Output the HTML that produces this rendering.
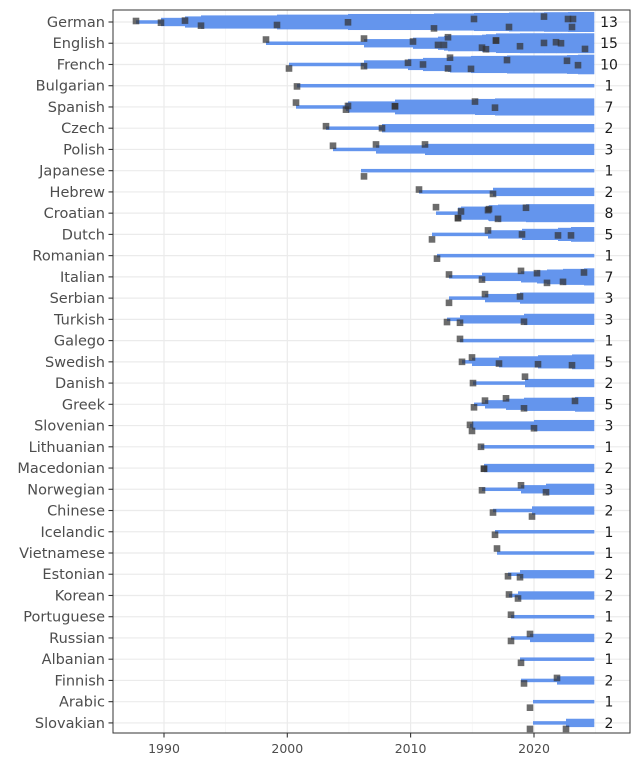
<!DOCTYPE html>
<html><head><meta charset="utf-8"><style>
html,body{margin:0;padding:0;background:#fff;}
svg{display:block;font-family:"DejaVu Sans","Liberation Sans",sans-serif;}
</style></head><body>
<svg id="s" width="640" height="768" xmlns="http://www.w3.org/2000/svg"></svg>
<script>
const S=document.getElementById('s');
const NS='http://www.w3.org/2000/svg';
function el(t,a,txt){const e=document.createElementNS(NS,t);for(const k in a)e.setAttribute(k,a[k]);if(txt!==undefined)e.textContent=txt;S.appendChild(e);return e;}
const L=113,R=630,T=10,B=733,END=594;
const rowY=i=>22+i*21.24;
const D=[
["German",[[136,-1],[161,0.7],[185,-1.4],[201,3.7],[277,3],[348,0.3],[434,6.4],[474,-3],[509,5],[544,-5.4],[568,-3],[573,-3],[572,5]]],
["English",[[266,-3.7],[364,-4.7],[413,-1.7],[438,1.7],[444,1.7],[448,-6],[482,4.4],[486,6],[496,-2.7],[496,-2.7],[520,3],[544,-0.3],[556,-1],[561,0],[585,5.7]]],
["French",[[289,4],[364,1.7],[408,-1.7],[423,0],[448,4],[450,-6.8],[471,4.4],[507,-4.4],[567,-3.7],[578,0.7]]],
["Bulgarian",[[297,0.7]]],
["Spanish",[[296,-4.4],[346,2.7],[348,-1],[395,-0.7],[395,-0.7],[475,-5.4],[495,0.7]]],
["Czech",[[326,-2],[382,0]]],
["Polish",[[333,-3.7],[376,-5],[425,-5]]],
["Japanese",[[364,5.7]],361],
["Hebrew",[[419,-2.4],[493,2]]],
["Croatian",[[436,-6],[458,5],[458,5],[461,-1.7],[488,-3],[489,-4],[498,5.7],[526,-5.4]]],
["Dutch",[[432,5],[488,-4],[522,0],[558,1],[571,1]]],
["Romanian",[[437,3]]],
["Italian",[[449,-2.4],[482,2.7],[521,-6],[537,-3.7],[547,6],[563,5],[584,-4.4]]],
["Serbian",[[449,4.7],[485,-4],[520,-1.7]]],
["Turkish",[[447,2.7],[460,3.4],[524,2.4]]],
["Galego",[[460,-1.7]]],
["Swedish",[[462,0],[472,-4.4],[499,1.7],[538,2.4],[572,3.4]]],
["Danish",[[473,0],[525,-6.4]]],
["Greek",[[474,3],[485,-3.7],[506,-6],[524,4],[575,-3.4]]],
["Slovenian",[[470,-0.7],[472,5.4],[534,2.7]]],
["Lithuanian",[[481,0]]],
["Macedonian",[[484,0.7],[484,0.7]]],
["Norwegian",[[482,1],[521,-4],[546,3]]],
["Chinese",[[493,2],[532,6]]],
["Icelandic",[[495,3]]],
["Vietnamese",[[497,-4.5]]],
["Estonian",[[508,2],[520,3]]],
["Korean",[[509,-1],[518,3]]],
["Portuguese",[[511,-2]]],
["Russian",[[511,3],[530,-4]]],
["Albanian",[[521,3.6]],520],
["Finnish",[[524,3],[557,-2.5]],521],
["Arabic",[[530,6]],533],
["Slovakian",[[530,6],[566,6]],533]
];
el('rect',{x:L,y:T,width:R-L,height:B-T,fill:'#fff'});
[225.6,348.9,472.2,595.5].forEach(x=>el('line',{x1:x,x2:x,y1:T,y2:B,stroke:'#f2f2f2','stroke-width':0.6}));
[164,287.3,410.6,534].forEach(x=>el('line',{x1:x,x2:x,y1:T,y2:B,stroke:'#ebebeb','stroke-width':1.2}));
D.forEach((d,i)=>el('line',{x1:L,x2:R,y1:rowY(i),y2:rowY(i),stroke:'#ebebeb','stroke-width':1.2}));
const th=n=>Math.min(3.5+7*Math.log(n),20);
D.forEach((d,i)=>{
  const y=rowY(i);const pts=d[1].map(p=>p[0]).sort((a,b)=>a-b);
  let start=d[2]!==undefined?d[2]:pts[0];
  for(let k=0;k<pts.length;k++){
    const x0=k==0?start:pts[k];const x1=k<pts.length-1?pts[k+1]:END;
    if(x1<=x0)continue;
    const t=th(k+1);
    el('rect',{x:x0,y:y-t/2,width:x1-x0+0.3,height:t,fill:'#6495ed'});
  }
});
D.forEach((d,i)=>{
  const y=rowY(i);
  d[1].forEach(p=>el('rect',{x:p[0]-3.3,y:y+p[1]-3.3,width:6.6,height:6.6,fill:'#333','fill-opacity':0.72}));
});
el('rect',{x:L,y:T,width:R-L,height:B-T,fill:'none',stroke:'#333','stroke-width':1});
D.forEach((d,i)=>{
  const y=rowY(i);
  el('line',{x1:108.5,x2:L,y1:y,y2:y,stroke:'#333','stroke-width':1.1});
  el('text',{x:105,y:y+5,'text-anchor':'end','font-size':14.5,fill:'#4d4d4d'},d[0]);
  el('text',{x:609,y:y+5,'text-anchor':'middle','font-size':14,fill:'#1a1a1a'},String(d[1].length));
});
[[164,'1990'],[287.3,'2000'],[410.6,'2010'],[534,'2020']].forEach(a=>{
  el('line',{x1:a[0],x2:a[0],y1:B,y2:B+4.5,stroke:'#333','stroke-width':1.1});
  el('text',{x:a[0],y:753,'text-anchor':'middle','font-size':12.5,fill:'#4d4d4d'},a[1]);
});
</script>
</body></html>
